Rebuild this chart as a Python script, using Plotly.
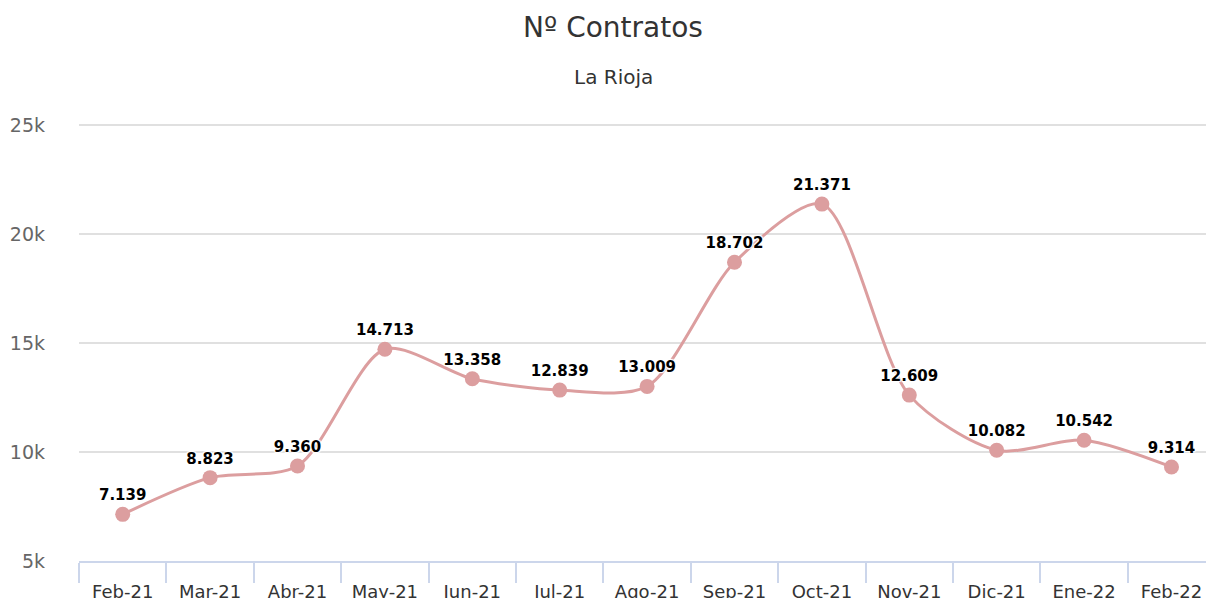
import plotly.graph_objects as go

categories = ["Feb-21", "Mar-21", "Abr-21", "May-21", "Jun-21", "Jul-21", "Ago-21",
              "Sep-21", "Oct-21", "Nov-21", "Dic-21", "Ene-22", "Feb-22"]
contratos = [7139, 8823, 9360, 14713, 13358, 12839, 13009,
             18702, 21371, 12609, 10082, 10542, 9314]
y_ticks = [5000, 10000, 15000, 20000, 25000]

x = list(range(len(categories)))
labels = [f"{v:,}".replace(",", ".") for v in contratos]

W, H = 1206, 598
left, bottom_px = 79, 561
px_per_unit = (561 - 125) / 20000.0
top = 123
y_top = 5000 + (bottom_px - top) / px_per_unit
cat_w = 87.4
x_max = -0.5 + (W - left) / cat_w

fig = go.Figure()
fig.add_trace(go.Scatter(
    x=x, y=contratos, mode="lines+markers+text",
    line=dict(color="#DC9E9F", width=3, shape="spline", smoothing=0.8),
    marker=dict(color="#DC9E9F", size=15),
    text=labels, textposition="top center",
    textfont=dict(family="DejaVu Sans", size=15, color="#000000", weight="bold",
                  shadow="1px 1px 1px #fff, -1px -1px 1px #fff, 1px -1px 1px #fff, -1px 1px 1px #fff"),
    cliponaxis=False, showlegend=False, hoverinfo="skip",
))

plot_h = bottom_px - top
fig.update_layout(
    width=W, height=H,
    margin=dict(l=left, r=0, t=top, b=H - bottom_px, pad=0, autoexpand=False),
    paper_bgcolor="white", plot_bgcolor="white",
    separators=",.",
    font=dict(family="DejaVu Sans", color="#666666"),
    title=dict(text="Nº Contratos", x=613 / W, xref="container", xanchor="center",
               y=1 - 27 / H, yref="container", yanchor="middle",
               font=dict(size=28, color="#333333", family="DejaVu Sans")),
    annotations=[dict(text="La Rioja", x=(613 - left) / (W - left), xref="paper",
                      y=(bottom_px - 77) / plot_h, yref="paper",
                      xanchor="center", yanchor="middle", showarrow=False,
                      font=dict(size=20, color="#333333", family="DejaVu Sans"))],
)

fig.update_xaxes(
    range=[-0.5, x_max], tickmode="array", tickvals=x, ticktext=categories,
    ticks="", showgrid=False, zeroline=False, automargin=False,
    showline=True, linecolor="#CCD6EB", linewidth=2,
    tickfont=dict(size=18, color="#333333", family="DejaVu Sans"),
    ticklabelstandoff=13,
    minor=dict(tickmode="linear", tick0=-0.5, dtick=1, ticks="outside",
               ticklen=20, tickcolor="#CCD6EB", tickwidth=2, showgrid=False),
    fixedrange=True,
)
fig.update_yaxes(
    range=[5000, y_top], tickmode="array", tickvals=y_ticks,
    tickformat="~s", showgrid=True, gridcolor="#E0E0E0", gridwidth=1.5,
    zeroline=False, showline=False, automargin=False,
    tickfont=dict(size=19, color="#666666", family="DejaVu Sans"),
    ticklabelstandoff=33,
    fixedrange=True,
)

fig.write_html("out.html", config={"displayModeBar": False},
               post_script="document.body.style.margin='0';")
